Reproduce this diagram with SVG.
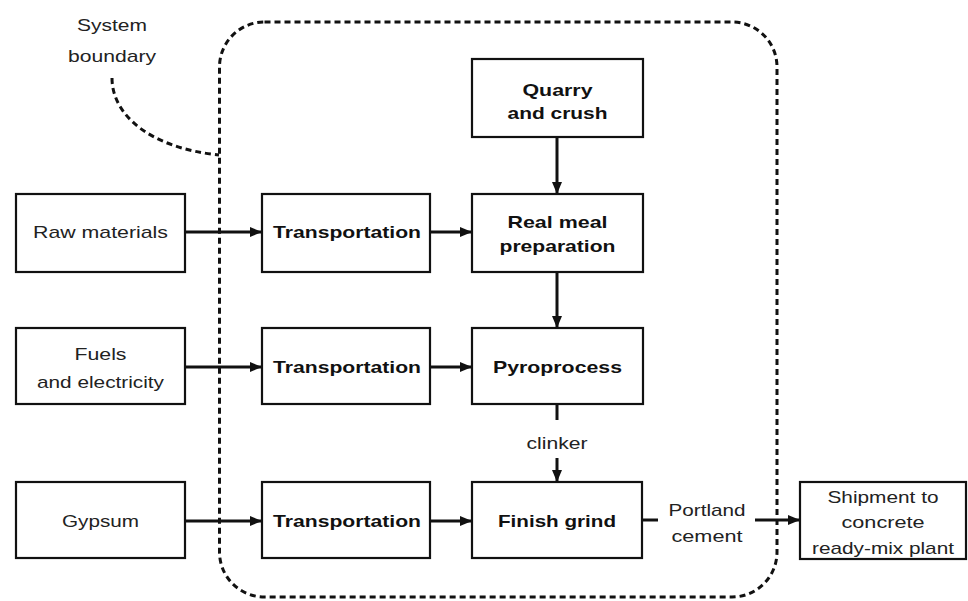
<svg xmlns="http://www.w3.org/2000/svg" width="968" height="601" viewBox="0 0 968 601">
<style>
.box{fill:#fff;stroke:#111;stroke-width:2.2}
.t{font-family:"Liberation Sans",Arial,sans-serif;font-size:17px;fill:#222;text-anchor:middle}
.b{font-weight:bold;fill:#111}
.c{stroke:#111;stroke-width:3;fill:none}
.d{stroke:#111;stroke-width:3;fill:none;stroke-dasharray:6 4}
</style>
<defs>
<marker id="ah" markerWidth="12" markerHeight="10" refX="12" refY="5" orient="auto" markerUnits="userSpaceOnUse">
<path d="M0,0 L12,5 L0,10 Z" fill="#111"/>
</marker>
</defs>
<rect width="968" height="601" fill="#fff"/>
<g id="boundary">
<rect class="d" x="219.5" y="22" width="557.5" height="575" rx="45" ry="45"/>
<path class="d" d="M112,78 C112,115 150,148 219,155"/>
<text class="t" x="112" y="31" textLength="70" lengthAdjust="spacingAndGlyphs">System</text>
<text class="t" x="112" y="62" textLength="88" lengthAdjust="spacingAndGlyphs">boundary</text>
</g>
<g id="connectors">
<line class="c" x1="185" y1="232" x2="262" y2="232" marker-end="url(#ah)"/>
<line class="c" x1="430" y1="232" x2="472" y2="232" marker-end="url(#ah)"/>
<line class="c" x1="185" y1="367" x2="262" y2="367" marker-end="url(#ah)"/>
<line class="c" x1="430" y1="367" x2="472" y2="367" marker-end="url(#ah)"/>
<line class="c" x1="185" y1="521" x2="262" y2="521" marker-end="url(#ah)"/>
<line class="c" x1="430" y1="521" x2="472" y2="521" marker-end="url(#ah)"/>
<line class="c" x1="557" y1="137" x2="557" y2="194" marker-end="url(#ah)"/>
<line class="c" x1="557" y1="272" x2="557" y2="328" marker-end="url(#ah)"/>
<line class="c" x1="557" y1="404" x2="557" y2="420"/>
<line class="c" x1="557" y1="458" x2="557" y2="482" marker-end="url(#ah)"/>
<line class="c" x1="642" y1="520" x2="658" y2="520"/>
<line class="c" x1="755" y1="520" x2="800" y2="520" marker-end="url(#ah)"/>
<text class="t" x="557" y="449" textLength="61" lengthAdjust="spacingAndGlyphs">clinker</text>
<text class="t" x="707" y="516" textLength="77" lengthAdjust="spacingAndGlyphs">Portland</text>
<text class="t" x="707" y="542" textLength="71" lengthAdjust="spacingAndGlyphs">cement</text>
</g>
<g id="raw">
<rect class="box" x="16" y="194" width="169" height="78"/>
<text class="t" x="100.5" y="238" textLength="135" lengthAdjust="spacingAndGlyphs">Raw materials</text>
</g>
<g id="fuels">
<rect class="box" x="16" y="328" width="169" height="76"/>
<text class="t" x="100.5" y="360" textLength="52" lengthAdjust="spacingAndGlyphs">Fuels</text>
<text class="t" x="100.5" y="388" textLength="127" lengthAdjust="spacingAndGlyphs">and electricity</text>
</g>
<g id="gypsum">
<rect class="box" x="16" y="482" width="169" height="76"/>
<text class="t" x="100.5" y="527" textLength="77" lengthAdjust="spacingAndGlyphs">Gypsum</text>
</g>
<g id="trans1">
<rect class="box" x="262" y="194" width="168" height="78"/>
<text class="t b" x="347" y="238" textLength="148" lengthAdjust="spacingAndGlyphs">Transportation</text>
</g>
<g id="trans2">
<rect class="box" x="262" y="328" width="168" height="76"/>
<text class="t b" x="347" y="373" textLength="148" lengthAdjust="spacingAndGlyphs">Transportation</text>
</g>
<g id="trans3">
<rect class="box" x="262" y="482" width="168" height="76"/>
<text class="t b" x="347" y="527" textLength="148" lengthAdjust="spacingAndGlyphs">Transportation</text>
</g>
<g id="quarry">
<rect class="box" x="472" y="59" width="171" height="78"/>
<text class="t b" x="557.5" y="96" textLength="70" lengthAdjust="spacingAndGlyphs">Quarry</text>
<text class="t b" x="557.5" y="119" textLength="100" lengthAdjust="spacingAndGlyphs">and crush</text>
</g>
<g id="realmeal">
<rect class="box" x="472" y="194" width="171" height="78"/>
<text class="t b" x="557.5" y="228" textLength="100" lengthAdjust="spacingAndGlyphs">Real meal</text>
<text class="t b" x="557.5" y="252" textLength="116" lengthAdjust="spacingAndGlyphs">preparation</text>
</g>
<g id="pyro">
<rect class="box" x="472" y="328" width="171" height="76"/>
<text class="t b" x="557.5" y="373" textLength="129" lengthAdjust="spacingAndGlyphs">Pyroprocess</text>
</g>
<g id="finish">
<rect class="box" x="472" y="482" width="170" height="76"/>
<text class="t b" x="557" y="527" textLength="118" lengthAdjust="spacingAndGlyphs">Finish grind</text>
</g>
<g id="shipment">
<rect class="box" x="800" y="482" width="166" height="77"/>
<text class="t" x="883" y="503" textLength="111" lengthAdjust="spacingAndGlyphs">Shipment to</text>
<text class="t" x="883" y="528" textLength="83" lengthAdjust="spacingAndGlyphs">concrete</text>
<text class="t" x="883" y="554" textLength="142" lengthAdjust="spacingAndGlyphs">ready-mix plant</text>
</g>
</svg>
